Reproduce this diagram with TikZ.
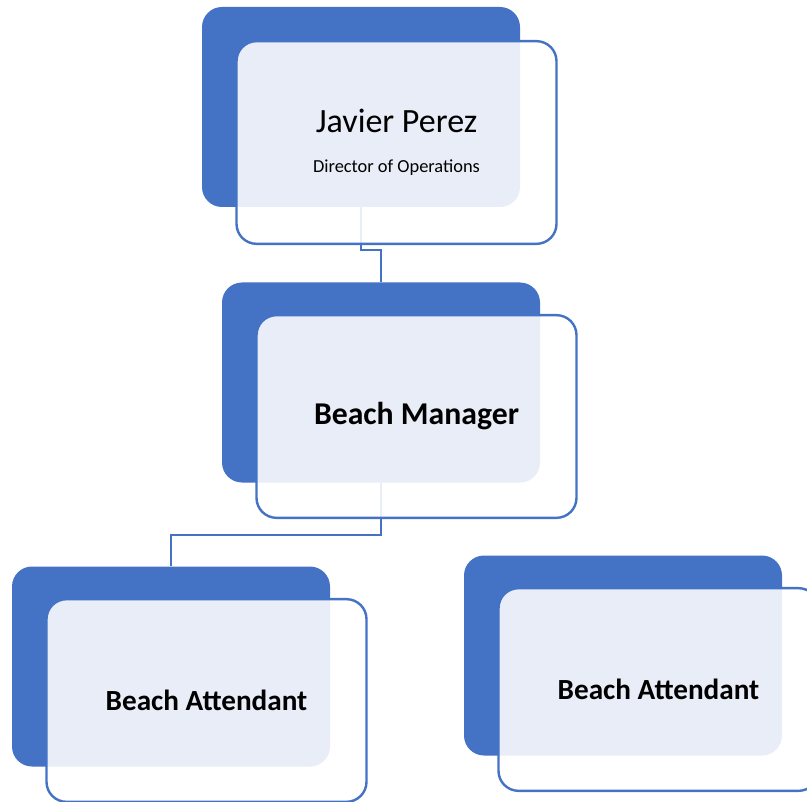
\documentclass[tikz,border=0pt]{standalone}
\usepackage{fontspec}
\setmainfont{Carlito}
\usetikzlibrary{positioning}

\definecolor{chartblue}{HTML}{4472C4}

\tikzset{
  backbox/.style={fill=chartblue, rounded corners=15pt, minimum width=238.5pt, minimum height=150pt, inner sep=0pt},
  frontbox/.style={draw=chartblue, line width=1.8pt, fill=white, fill opacity=0.88, text opacity=1, rounded corners=15pt, minimum width=240pt, minimum height=152pt, inner sep=0pt, align=center},
  link/.style={draw=chartblue, line width=1.7pt}
}

\begin{document}
\begin{tikzpicture}[x=0.75pt,y=0.75pt,yscale=-1,xscale=1]
\clip (0,0) rectangle (807,802);

%Back Boxes
\node [backbox] (dirback) at (361,107) {};
\node [backbox] (mgrback) at (381,382.5) {};
\node [backbox] (attaback) at (171,666.5) {};
\node [backbox] (attbback) at (623,655.5) {};

%Connectors
\draw [link] (dirback.south) -- ++(0,43) -| (mgrback.north);
\draw [link] (mgrback.south) -- ++(0,52) -| (attaback.north);

%Front Boxes
\node [frontbox, font=\fontsize{13.8}{30}\selectfont] (dir) at ([shift={(35.5,35.5)}]dirback.center) {{\fontsize{25.5}{30}\selectfont Javier Perez}\\Director of Operations};
\node [frontbox, font=\fontsize{23.8}{28}\selectfont\bfseries] (mgr) at ([shift={(35.5,34)}]mgrback.center) {Beach Manager};
\node [frontbox, font=\fontsize{21.9}{26}\selectfont\bfseries] (atta) at ([shift={(35.5,34)}]attaback.center) {Beach Attendant};
\node [frontbox, font=\fontsize{21.9}{26}\selectfont\bfseries] (attb) at ([shift={(35.5,34)}]attbback.center) {Beach Attendant};

\end{tikzpicture}
\end{document}
